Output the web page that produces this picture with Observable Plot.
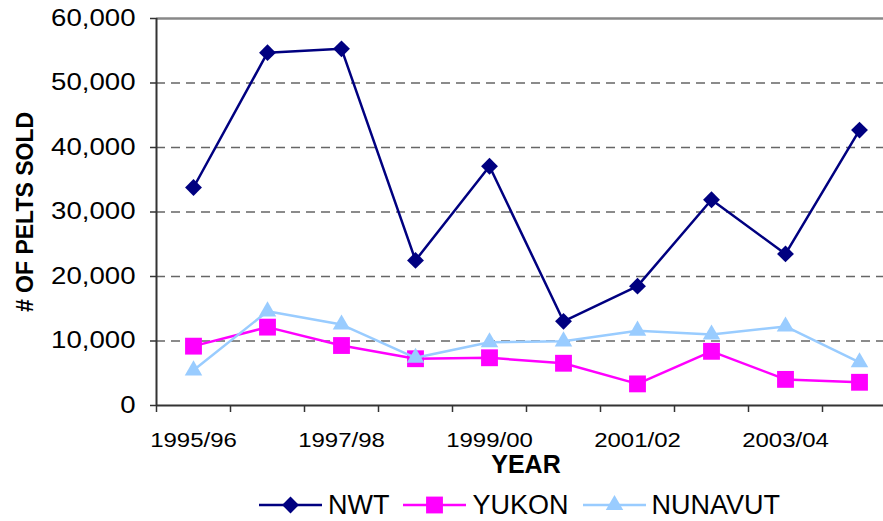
<!DOCTYPE html>
<html><head><meta charset="utf-8">
<script src="https://cdn.jsdelivr.net/npm/d3@7"></script>
<script src="https://cdn.jsdelivr.net/npm/@observablehq/plot@0.6"></script>
<style>
body{margin:0;background:#fff;font-family:"Liberation Sans",Arial,sans-serif;}
#chart svg{display:block;}
#legend{display:flex;align-items:center;justify-content:center;padding-left:156px;height:43px;padding-top:11px;box-sizing:border-box;width:883px;font-size:27px;color:#000;}
.item{display:flex;align-items:center;margin:0 7px;}
.item svg{margin-right:6px;}
</style></head><body>
<div id="chart"></div>
<div id="legend"></div>
<script>
const categories = ["1995/96","1996/97","1997/98","1998/99","1999/00","2000/01","2001/02","2002/03","2003/04","2004/05"];
const nwt     = [33800, 54700, 55300, 22500, 37100, 13050, 18500, 31900, 23500, 42700];
const yukon   = [9200, 12150, 9300, 7250, 7400, 6550, 3350, 8400, 4050, 3600];
const nunavut = [5450, 14600, 12550, 7400, 9800, 9950, 11600, 11000, 12250, 6700];
const yTicks = [0, 10000, 20000, 30000, 40000, 50000, 60000];
const xLabelEvery = 2;
const seriesNames = ["NWT", "YUKON", "NUNAVUT"];
const seriesColors = ["#000080", "#FF00FF", "#99CCFF"];
const seriesSymbols = ["diamond2", "square", "triangle"];
const seriesR = [7.6, 9.5, 6.5];
const seriesValues = [nwt, yukon, nunavut];

const rows = [];
seriesValues.forEach((vals, s) => vals.forEach((v, i) => rows.push({series: seriesNames[s], idx: i + 0.5, value: v})));

const W = 883, H = 478;
const seriesMarks = [];
seriesNames.forEach((name, s) => {
  const d = rows.filter(r => r.series === name);
  seriesMarks.push(Plot.line(d, {x: "idx", y: "value", stroke: "series", strokeWidth: 2.5}));
  seriesMarks.push(Plot.dot(d, {x: "idx", y: "value", fill: "series", symbol: () => seriesSymbols[s], r: seriesR[s]}));
});

const plot = Plot.plot({
  width: W, height: H,
  marginLeft: 156, marginRight: 0, marginTop: 18, marginBottom: H - 405,
  x: {type: "linear", domain: [0, categories.length], range: [156, 156 + 74 * categories.length], label: null},
  y: {domain: [0, 60000], range: [405, 18], label: null},
  color: {domain: seriesNames, range: seriesColors},
  symbol: {domain: seriesSymbols, range: seriesSymbols},
  style: {fontFamily: "'Liberation Sans', Arial, sans-serif", background: "#fff", color: "#000"},
  marks: [
    Plot.ruleY(yTicks.filter(t => t > 0 && t < 60000), {stroke: "#666", strokeWidth: 1.6, strokeDasharray: "9,6"}),
    Plot.ruleY([60000], {stroke: "#888", strokeWidth: 2.5}),
    Plot.axisY(yTicks, {tickSize: 6, tickPadding: 15, tickFormat: d3.format(","), fontSize: 23, stroke: "#333", strokeWidth: 1.5, label: null}),
    Plot.axisX(d3.range(0, categories.length + 1), {tickSize: 7, tickFormat: () => "", stroke: "#333", strokeWidth: 1.5, label: null}),
    Plot.axisX(d3.range(0, categories.length, xLabelEvery).map(i => i + 0.5), {tickSize: 0, tickPadding: 27, tickFormat: d => categories[Math.floor(d)], fontSize: 20.5, label: null}),
    Plot.ruleX([0], {y1: 0, y2: 60000, stroke: "#333", strokeWidth: 2}),
    Plot.ruleY([0], {stroke: "#333", strokeWidth: 2}),
    ...seriesMarks,
    Plot.text(["# OF PELTS SOLD"], {frameAnchor: "left", dx: -131, rotate: -90, textAnchor: "middle", fontWeight: "bold", fontSize: 23, lineAnchor: "middle"}),
    Plot.text(["YEAR"], {frameAnchor: "bottom", dx: 6, dy: 59, textAnchor: "middle", fontWeight: "bold", fontSize: 25, lineAnchor: "middle"})
  ]
});
document.getElementById("chart").appendChild(plot);

// horizontal stretch of tick labels to match the reference's wide glyphs
plot.querySelectorAll('g[aria-label="y-axis tick label"] text').forEach(t => {
  const tr = t.getAttribute("transform");
  if (tr) t.setAttribute("transform", tr + " scale(1.2,1)");
});
plot.querySelectorAll('g[aria-label="x-axis tick label"] text').forEach(t => {
  const tr = t.getAttribute("transform");
  if (tr) t.setAttribute("transform", tr + " scale(1.17,1)");
});

// legend
const legend = document.getElementById("legend");
seriesNames.forEach((name, s) => {
  const item = document.createElement("div");
  item.className = "item";
  const sym = d3.symbol(d3["symbol" + {diamond2: "Diamond2", square: "Square", triangle: "Triangle"}[seriesSymbols[s]]], Math.PI * seriesR[s] * seriesR[s])();
  item.innerHTML = `<svg width="63" height="24" viewBox="0 0 63 24"><line x1="0" x2="63" y1="12" y2="12" stroke="${seriesColors[s]}" stroke-width="2.5"/><path d="${sym}" transform="translate(31.5,12)" fill="${seriesColors[s]}"/></svg><span>${name}</span>`;
  legend.appendChild(item);
});
</script>
</body></html>
